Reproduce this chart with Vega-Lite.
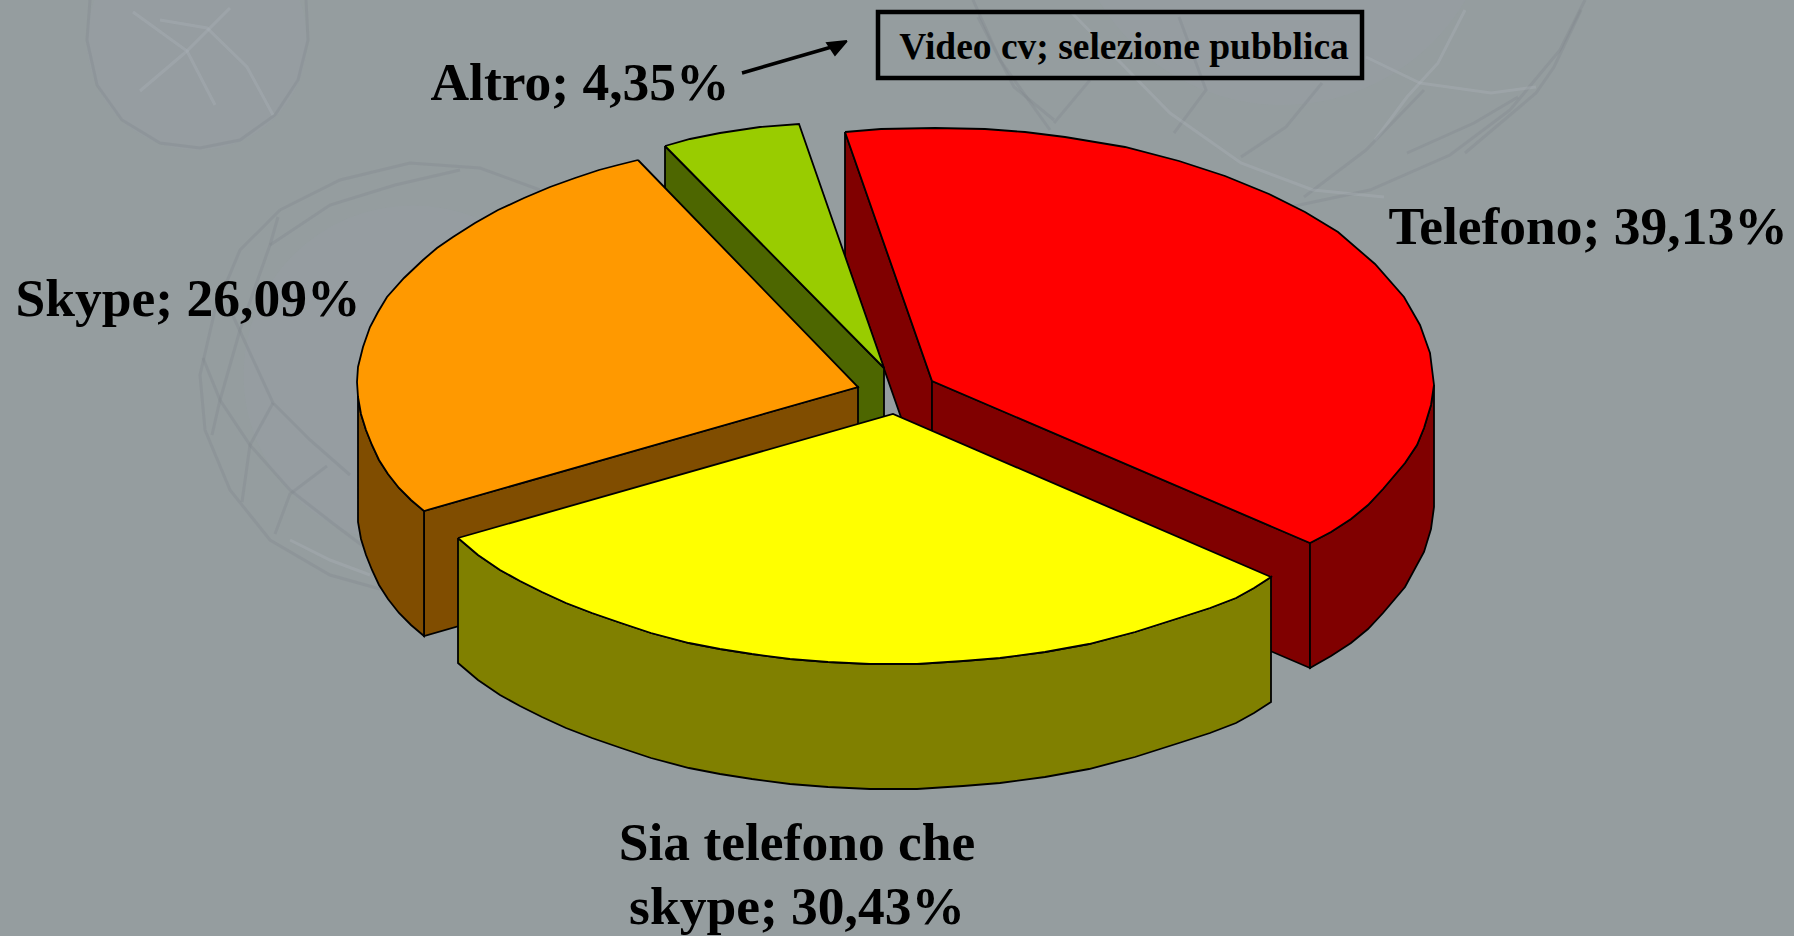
{"$schema":"https://vega.github.io/schema/vega-lite/v6.json","width":1794,"height":936,"padding":0,"autosize":"none","background":"#959d9f","config":{"view":{"stroke":null},"axis":{"disable":true}},
"datasets":{
"spheres":[{"sphere":"upper left","x":197,"y":40},{"sphere":"centre left","x":413,"y":375},{"sphere":"upper right","x":1282,"y":-108}],
"wires":[
{"w":"a1","t":"dark","i":0,"x":90,"y":0},{"w":"a1","t":"dark","i":1,"x":87,"y":40},{"w":"a1","t":"dark","i":2,"x":97,"y":85},{"w":"a1","t":"dark","i":3,"x":122,"y":120},{"w":"a1","t":"dark","i":4,"x":160,"y":143},{"w":"a1","t":"dark","i":5,"x":200,"y":148},{"w":"a1","t":"dark","i":6,"x":240,"y":140},{"w":"a1","t":"dark","i":7,"x":275,"y":115},{"w":"a1","t":"dark","i":8,"x":298,"y":80},{"w":"a1","t":"dark","i":9,"x":308,"y":40},{"w":"a1","t":"dark","i":10,"x":306,"y":0},
{"w":"a2","t":"light","i":0,"x":160,"y":20},{"w":"a2","t":"light","i":1,"x":207,"y":28},{"w":"a2","t":"light","i":2,"x":247,"y":67},{"w":"a2","t":"light","i":3,"x":273,"y":115},
{"w":"a3","t":"light","i":0,"x":133,"y":12},{"w":"a3","t":"light","i":1,"x":187,"y":51},{"w":"a3","t":"light","i":2,"x":140,"y":91},
{"w":"a4","t":"light","i":0,"x":230,"y":8},{"w":"a4","t":"light","i":1,"x":187,"y":51},{"w":"a4","t":"light","i":2,"x":215,"y":105},
{"w":"b1","t":"dark","i":0,"x":280,"y":210},{"w":"b1","t":"dark","i":1,"x":240,"y":250},{"w":"b1","t":"dark","i":2,"x":215,"y":310},{"w":"b1","t":"dark","i":3,"x":200,"y":375},{"w":"b1","t":"dark","i":4,"x":205,"y":430},{"w":"b1","t":"dark","i":5,"x":230,"y":490},{"w":"b1","t":"dark","i":6,"x":270,"y":540},{"w":"b1","t":"dark","i":7,"x":330,"y":575},{"w":"b1","t":"dark","i":8,"x":380,"y":589},
{"w":"b2","t":"dark","i":0,"x":280,"y":210},{"w":"b2","t":"dark","i":1,"x":340,"y":180},{"w":"b2","t":"dark","i":2,"x":410,"y":163},{"w":"b2","t":"dark","i":3,"x":480,"y":168},{"w":"b2","t":"dark","i":4,"x":540,"y":190},
{"w":"b3","t":"dark","i":0,"x":203,"y":358},{"w":"b3","t":"dark","i":1,"x":220,"y":400},{"w":"b3","t":"dark","i":2,"x":250,"y":445},{"w":"b3","t":"dark","i":3,"x":290,"y":490},{"w":"b3","t":"dark","i":4,"x":335,"y":525},{"w":"b3","t":"dark","i":5,"x":375,"y":555},
{"w":"b4","t":"dark","i":0,"x":233,"y":316},{"w":"b4","t":"dark","i":1,"x":273,"y":403},{"w":"b4","t":"dark","i":2,"x":310,"y":440},{"w":"b4","t":"dark","i":3,"x":350,"y":475},
{"w":"b5","t":"dark","i":0,"x":273,"y":403},{"w":"b5","t":"dark","i":1,"x":250,"y":445},{"w":"b5","t":"dark","i":2,"x":242,"y":502},
{"w":"b6","t":"dark","i":0,"x":212,"y":435},{"w":"b6","t":"dark","i":1,"x":220,"y":400},{"w":"b6","t":"dark","i":2,"x":240,"y":330},{"w":"b6","t":"dark","i":3,"x":270,"y":245},{"w":"b6","t":"dark","i":4,"x":278,"y":217},
{"w":"b7","t":"dark","i":0,"x":327,"y":466},{"w":"b7","t":"dark","i":1,"x":290,"y":494},{"w":"b7","t":"dark","i":2,"x":275,"y":534},
{"w":"b8","t":"dark","i":0,"x":270,"y":245},{"w":"b8","t":"dark","i":1,"x":330,"y":205},{"w":"b8","t":"dark","i":2,"x":395,"y":185},{"w":"b8","t":"dark","i":3,"x":460,"y":170},
{"w":"b10","t":"light","i":0,"x":290,"y":540},{"w":"b10","t":"light","i":1,"x":330,"y":560},{"w":"b10","t":"light","i":2,"x":370,"y":575},
{"w":"c1","t":"dark","i":0,"x":973,"y":0},{"w":"c1","t":"dark","i":1,"x":1000,"y":60},{"w":"c1","t":"dark","i":2,"x":1050,"y":130},
{"w":"c2","t":"dark","i":0,"x":1290,"y":207},{"w":"c2","t":"dark","i":1,"x":1370,"y":190},{"w":"c2","t":"dark","i":2,"x":1450,"y":155},{"w":"c2","t":"dark","i":3,"x":1510,"y":110},{"w":"c2","t":"dark","i":4,"x":1560,"y":50},{"w":"c2","t":"dark","i":5,"x":1585,"y":0},
{"w":"c3","t":"dark","i":0,"x":978,"y":17},{"w":"c3","t":"dark","i":1,"x":1014,"y":87},{"w":"c3","t":"dark","i":2,"x":1054,"y":120},
{"w":"c4","t":"light","i":0,"x":1465,"y":10},{"w":"c4","t":"light","i":1,"x":1438,"y":63},{"w":"c4","t":"light","i":2,"x":1407,"y":97},{"w":"c4","t":"light","i":3,"x":1375,"y":140},
{"w":"c5","t":"light","i":0,"x":1366,"y":57},{"w":"c5","t":"light","i":1,"x":1420,"y":83},{"w":"c5","t":"light","i":2,"x":1491,"y":93},{"w":"c5","t":"light","i":3,"x":1536,"y":87},
{"w":"c6","t":"dark","i":0,"x":1322,"y":83},{"w":"c6","t":"dark","i":1,"x":1286,"y":127},{"w":"c6","t":"dark","i":2,"x":1241,"y":157},
{"w":"c7","t":"dark","i":0,"x":1407,"y":153},{"w":"c7","t":"dark","i":1,"x":1474,"y":123},{"w":"c7","t":"dark","i":2,"x":1518,"y":97},
{"w":"c8","t":"dark","i":0,"x":1304,"y":197},{"w":"c8","t":"dark","i":1,"x":1366,"y":150},{"w":"c8","t":"dark","i":2,"x":1424,"y":90},
{"w":"c9","t":"dark","i":0,"x":1090,"y":80},{"w":"c9","t":"dark","i":1,"x":1054,"y":123},
{"w":"c10","t":"dark","i":0,"x":1174,"y":133},{"w":"c10","t":"dark","i":1,"x":1206,"y":90},{"w":"c10","t":"dark","i":2,"x":1179,"y":17},
{"w":"c11","t":"light","i":0,"x":1072,"y":13},{"w":"c11","t":"light","i":1,"x":1170,"y":113},{"w":"c11","t":"light","i":2,"x":1241,"y":163},{"w":"c11","t":"light","i":3,"x":1313,"y":190},{"w":"c11","t":"light","i":4,"x":1384,"y":197},
{"w":"c12","t":"dark","i":0,"x":1581,"y":10},{"w":"c12","t":"dark","i":1,"x":1554,"y":67},{"w":"c12","t":"dark","i":2,"x":1536,"y":93},{"w":"c12","t":"dark","i":3,"x":1465,"y":153}
],
"faces":[
{"s":"Telefono side","f":"r1","i":0,"x":845,"y":132},{"s":"Telefono side","f":"r1","i":1,"x":932,"y":381},{"s":"Telefono side","f":"r1","i":2,"x":932,"y":506},{"s":"Telefono side","f":"r1","i":3,"x":845,"y":257},{"s":"Telefono side","f":"r1","i":4,"x":845,"y":132},
{"s":"Telefono side","f":"r2","i":0,"x":932,"y":381},{"s":"Telefono side","f":"r2","i":1,"x":1310,"y":543},{"s":"Telefono side","f":"r2","i":2,"x":1310,"y":668},{"s":"Telefono side","f":"r2","i":3,"x":932,"y":506},{"s":"Telefono side","f":"r2","i":4,"x":932,"y":381},
{"s":"Telefono side","f":"r3","i":0,"x":1434,"y":385},{"s":"Telefono side","f":"r3","i":1,"x":1431,"y":405},{"s":"Telefono side","f":"r3","i":2,"x":1424,"y":428},{"s":"Telefono side","f":"r3","i":3,"x":1417,"y":445},{"s":"Telefono side","f":"r3","i":4,"x":1405,"y":463},{"s":"Telefono side","f":"r3","i":5,"x":1383,"y":489},{"s":"Telefono side","f":"r3","i":6,"x":1368,"y":505},{"s":"Telefono side","f":"r3","i":7,"x":1351,"y":519},{"s":"Telefono side","f":"r3","i":8,"x":1331,"y":532},{"s":"Telefono side","f":"r3","i":9,"x":1310,"y":543},{"s":"Telefono side","f":"r3","i":10,"x":1310,"y":668},{"s":"Telefono side","f":"r3","i":11,"x":1331,"y":656},{"s":"Telefono side","f":"r3","i":12,"x":1351,"y":643},{"s":"Telefono side","f":"r3","i":13,"x":1368,"y":629},{"s":"Telefono side","f":"r3","i":14,"x":1383,"y":613},{"s":"Telefono side","f":"r3","i":15,"x":1405,"y":587},{"s":"Telefono side","f":"r3","i":16,"x":1424,"y":552},{"s":"Telefono side","f":"r3","i":17,"x":1431,"y":529},{"s":"Telefono side","f":"r3","i":18,"x":1434,"y":507},{"s":"Telefono side","f":"r3","i":19,"x":1434,"y":385},
{"s":"Telefono top","f":"r4","i":0,"x":845,"y":132},{"s":"Telefono top","f":"r4","i":1,"x":881,"y":129},{"s":"Telefono top","f":"r4","i":2,"x":935,"y":128},{"s":"Telefono top","f":"r4","i":3,"x":985,"y":129},{"s":"Telefono top","f":"r4","i":4,"x":1025,"y":132},{"s":"Telefono top","f":"r4","i":5,"x":1065,"y":137},{"s":"Telefono top","f":"r4","i":6,"x":1125,"y":147},{"s":"Telefono top","f":"r4","i":7,"x":1179,"y":161},{"s":"Telefono top","f":"r4","i":8,"x":1225,"y":176},{"s":"Telefono top","f":"r4","i":9,"x":1269,"y":194},{"s":"Telefono top","f":"r4","i":10,"x":1305,"y":212},{"s":"Telefono top","f":"r4","i":11,"x":1338,"y":232},{"s":"Telefono top","f":"r4","i":12,"x":1375,"y":264},{"s":"Telefono top","f":"r4","i":13,"x":1404,"y":297},{"s":"Telefono top","f":"r4","i":14,"x":1420,"y":325},{"s":"Telefono top","f":"r4","i":15,"x":1430,"y":353},{"s":"Telefono top","f":"r4","i":16,"x":1434,"y":385},{"s":"Telefono top","f":"r4","i":17,"x":1431,"y":405},{"s":"Telefono top","f":"r4","i":18,"x":1424,"y":428},{"s":"Telefono top","f":"r4","i":19,"x":1417,"y":445},{"s":"Telefono top","f":"r4","i":20,"x":1405,"y":463},{"s":"Telefono top","f":"r4","i":21,"x":1383,"y":489},{"s":"Telefono top","f":"r4","i":22,"x":1368,"y":505},{"s":"Telefono top","f":"r4","i":23,"x":1351,"y":519},{"s":"Telefono top","f":"r4","i":24,"x":1331,"y":532},{"s":"Telefono top","f":"r4","i":25,"x":1310,"y":543},{"s":"Telefono top","f":"r4","i":26,"x":932,"y":381},{"s":"Telefono top","f":"r4","i":27,"x":845,"y":132},
{"s":"Altro side","f":"g1","i":0,"x":665,"y":146},{"s":"Altro side","f":"g1","i":1,"x":884,"y":368},{"s":"Altro side","f":"g1","i":2,"x":884,"y":493},{"s":"Altro side","f":"g1","i":3,"x":665,"y":271},{"s":"Altro side","f":"g1","i":4,"x":665,"y":146},
{"s":"Altro top","f":"g2","i":0,"x":665,"y":146},{"s":"Altro top","f":"g2","i":1,"x":690,"y":139},{"s":"Altro top","f":"g2","i":2,"x":720,"y":133},{"s":"Altro top","f":"g2","i":3,"x":760,"y":127},{"s":"Altro top","f":"g2","i":4,"x":799,"y":124},{"s":"Altro top","f":"g2","i":5,"x":884,"y":368},{"s":"Altro top","f":"g2","i":6,"x":665,"y":146},
{"s":"Skype side","f":"o1","i":0,"x":424,"y":511},{"s":"Skype side","f":"o1","i":1,"x":858,"y":387},{"s":"Skype side","f":"o1","i":2,"x":858,"y":512},{"s":"Skype side","f":"o1","i":3,"x":424,"y":636},{"s":"Skype side","f":"o1","i":4,"x":424,"y":511},
{"s":"Skype side","f":"o2","i":0,"x":358,"y":382},{"s":"Skype side","f":"o2","i":1,"x":358,"y":397},{"s":"Skype side","f":"o2","i":2,"x":361,"y":414},{"s":"Skype side","f":"o2","i":3,"x":366,"y":430},{"s":"Skype side","f":"o2","i":4,"x":372,"y":445},{"s":"Skype side","f":"o2","i":5,"x":379,"y":460},{"s":"Skype side","f":"o2","i":6,"x":388,"y":474},{"s":"Skype side","f":"o2","i":7,"x":399,"y":488},{"s":"Skype side","f":"o2","i":8,"x":411,"y":500},{"s":"Skype side","f":"o2","i":9,"x":424,"y":511},{"s":"Skype side","f":"o2","i":10,"x":424,"y":636},{"s":"Skype side","f":"o2","i":11,"x":411,"y":625},{"s":"Skype side","f":"o2","i":12,"x":399,"y":613},{"s":"Skype side","f":"o2","i":13,"x":388,"y":599},{"s":"Skype side","f":"o2","i":14,"x":379,"y":585},{"s":"Skype side","f":"o2","i":15,"x":372,"y":570},{"s":"Skype side","f":"o2","i":16,"x":366,"y":555},{"s":"Skype side","f":"o2","i":17,"x":361,"y":539},{"s":"Skype side","f":"o2","i":18,"x":358,"y":522},{"s":"Skype side","f":"o2","i":19,"x":358,"y":382},
{"s":"Skype top","f":"o3","i":0,"x":638,"y":160},{"s":"Skype top","f":"o3","i":1,"x":618,"y":165},{"s":"Skype top","f":"o3","i":2,"x":599,"y":170},{"s":"Skype top","f":"o3","i":3,"x":575,"y":178},{"s":"Skype top","f":"o3","i":4,"x":550,"y":187},{"s":"Skype top","f":"o3","i":5,"x":524,"y":198},{"s":"Skype top","f":"o3","i":6,"x":498,"y":210},{"s":"Skype top","f":"o3","i":7,"x":475,"y":223},{"s":"Skype top","f":"o3","i":8,"x":453,"y":237},{"s":"Skype top","f":"o3","i":9,"x":437,"y":248},{"s":"Skype top","f":"o3","i":10,"x":423,"y":260},{"s":"Skype top","f":"o3","i":11,"x":404,"y":278},{"s":"Skype top","f":"o3","i":12,"x":387,"y":297},{"s":"Skype top","f":"o3","i":13,"x":378,"y":312},{"s":"Skype top","f":"o3","i":14,"x":370,"y":327},{"s":"Skype top","f":"o3","i":15,"x":363,"y":347},{"s":"Skype top","f":"o3","i":16,"x":358,"y":367},{"s":"Skype top","f":"o3","i":17,"x":357,"y":382},{"s":"Skype top","f":"o3","i":18,"x":358,"y":397},{"s":"Skype top","f":"o3","i":19,"x":361,"y":414},{"s":"Skype top","f":"o3","i":20,"x":366,"y":430},{"s":"Skype top","f":"o3","i":21,"x":372,"y":445},{"s":"Skype top","f":"o3","i":22,"x":379,"y":460},{"s":"Skype top","f":"o3","i":23,"x":388,"y":474},{"s":"Skype top","f":"o3","i":24,"x":399,"y":488},{"s":"Skype top","f":"o3","i":25,"x":411,"y":500},{"s":"Skype top","f":"o3","i":26,"x":424,"y":511},{"s":"Skype top","f":"o3","i":27,"x":858,"y":387},{"s":"Skype top","f":"o3","i":28,"x":638,"y":160},
{"s":"Sia side","f":"y1","i":0,"x":458,"y":538},{"s":"Sia side","f":"y1","i":1,"x":478,"y":555},{"s":"Sia side","f":"y1","i":2,"x":500,"y":570},{"s":"Sia side","f":"y1","i":3,"x":520,"y":581},{"s":"Sia side","f":"y1","i":4,"x":542,"y":592},{"s":"Sia side","f":"y1","i":5,"x":566,"y":603},{"s":"Sia side","f":"y1","i":6,"x":592,"y":613},{"s":"Sia side","f":"y1","i":7,"x":621,"y":623},{"s":"Sia side","f":"y1","i":8,"x":651,"y":633},{"s":"Sia side","f":"y1","i":9,"x":689,"y":643},{"s":"Sia side","f":"y1","i":10,"x":720,"y":649},{"s":"Sia side","f":"y1","i":11,"x":752,"y":654},{"s":"Sia side","f":"y1","i":12,"x":790,"y":659},{"s":"Sia side","f":"y1","i":13,"x":828,"y":662},{"s":"Sia side","f":"y1","i":14,"x":870,"y":664},{"s":"Sia side","f":"y1","i":15,"x":917,"y":664},{"s":"Sia side","f":"y1","i":16,"x":963,"y":661},{"s":"Sia side","f":"y1","i":17,"x":1000,"y":658},{"s":"Sia side","f":"y1","i":18,"x":1045,"y":652},{"s":"Sia side","f":"y1","i":19,"x":1089,"y":644},{"s":"Sia side","f":"y1","i":20,"x":1135,"y":632},{"s":"Sia side","f":"y1","i":21,"x":1179,"y":618},{"s":"Sia side","f":"y1","i":22,"x":1210,"y":608},{"s":"Sia side","f":"y1","i":23,"x":1236,"y":598},{"s":"Sia side","f":"y1","i":24,"x":1254,"y":588},{"s":"Sia side","f":"y1","i":25,"x":1271,"y":577},{"s":"Sia side","f":"y1","i":26,"x":1271,"y":702},{"s":"Sia side","f":"y1","i":27,"x":1254,"y":713},{"s":"Sia side","f":"y1","i":28,"x":1236,"y":723},{"s":"Sia side","f":"y1","i":29,"x":1210,"y":733},{"s":"Sia side","f":"y1","i":30,"x":1179,"y":743},{"s":"Sia side","f":"y1","i":31,"x":1135,"y":757},{"s":"Sia side","f":"y1","i":32,"x":1089,"y":769},{"s":"Sia side","f":"y1","i":33,"x":1045,"y":777},{"s":"Sia side","f":"y1","i":34,"x":1000,"y":783},{"s":"Sia side","f":"y1","i":35,"x":963,"y":786},{"s":"Sia side","f":"y1","i":36,"x":917,"y":789},{"s":"Sia side","f":"y1","i":37,"x":870,"y":789},{"s":"Sia side","f":"y1","i":38,"x":828,"y":787},{"s":"Sia side","f":"y1","i":39,"x":790,"y":784},{"s":"Sia side","f":"y1","i":40,"x":752,"y":779},{"s":"Sia side","f":"y1","i":41,"x":720,"y":774},{"s":"Sia side","f":"y1","i":42,"x":689,"y":768},{"s":"Sia side","f":"y1","i":43,"x":651,"y":758},{"s":"Sia side","f":"y1","i":44,"x":621,"y":748},{"s":"Sia side","f":"y1","i":45,"x":592,"y":738},{"s":"Sia side","f":"y1","i":46,"x":566,"y":728},{"s":"Sia side","f":"y1","i":47,"x":542,"y":717},{"s":"Sia side","f":"y1","i":48,"x":520,"y":706},{"s":"Sia side","f":"y1","i":49,"x":500,"y":695},{"s":"Sia side","f":"y1","i":50,"x":478,"y":680},{"s":"Sia side","f":"y1","i":51,"x":458,"y":663},{"s":"Sia side","f":"y1","i":52,"x":458,"y":538},
{"s":"Sia top","f":"y2","i":0,"x":458,"y":538},{"s":"Sia top","f":"y2","i":1,"x":478,"y":555},{"s":"Sia top","f":"y2","i":2,"x":500,"y":570},{"s":"Sia top","f":"y2","i":3,"x":520,"y":581},{"s":"Sia top","f":"y2","i":4,"x":542,"y":592},{"s":"Sia top","f":"y2","i":5,"x":566,"y":603},{"s":"Sia top","f":"y2","i":6,"x":592,"y":613},{"s":"Sia top","f":"y2","i":7,"x":621,"y":623},{"s":"Sia top","f":"y2","i":8,"x":651,"y":633},{"s":"Sia top","f":"y2","i":9,"x":689,"y":643},{"s":"Sia top","f":"y2","i":10,"x":720,"y":649},{"s":"Sia top","f":"y2","i":11,"x":752,"y":654},{"s":"Sia top","f":"y2","i":12,"x":790,"y":659},{"s":"Sia top","f":"y2","i":13,"x":828,"y":662},{"s":"Sia top","f":"y2","i":14,"x":870,"y":664},{"s":"Sia top","f":"y2","i":15,"x":917,"y":664},{"s":"Sia top","f":"y2","i":16,"x":963,"y":661},{"s":"Sia top","f":"y2","i":17,"x":1000,"y":658},{"s":"Sia top","f":"y2","i":18,"x":1045,"y":652},{"s":"Sia top","f":"y2","i":19,"x":1089,"y":644},{"s":"Sia top","f":"y2","i":20,"x":1135,"y":632},{"s":"Sia top","f":"y2","i":21,"x":1179,"y":618},{"s":"Sia top","f":"y2","i":22,"x":1210,"y":608},{"s":"Sia top","f":"y2","i":23,"x":1236,"y":598},{"s":"Sia top","f":"y2","i":24,"x":1254,"y":588},{"s":"Sia top","f":"y2","i":25,"x":1271,"y":577},{"s":"Sia top","f":"y2","i":26,"x":893,"y":414},{"s":"Sia top","f":"y2","i":27,"x":458,"y":538},
{"s":"Arrow","f":"a1","i":0,"x":847,"y":41},{"s":"Arrow","f":"a1","i":1,"x":827,"y":43},{"s":"Arrow","f":"a1","i":2,"x":835,"y":55},{"s":"Arrow","f":"a1","i":3,"x":847,"y":41}
],
"labels":[
{"t":"Telefono; 39,13%","x":1588,"y":244,"k":"big"},
{"t":"Skype; 26,09%","x":188,"y":316,"k":"big"},
{"t":"Altro; 4,35%","x":580,"y":100,"k":"big"},
{"t":"Sia telefono che","x":797,"y":860,"k":"big"},
{"t":"skype; 30,43%","x":797,"y":924,"k":"big"},
{"t":"Video cv; selezione pubblica","x":1124,"y":59,"k":"small"}
],
"box":[{"x":878,"x2":1362,"y":12,"y2":78}],
"arrowLine":[{"x":742,"y":73,"x2":835,"y2":46}]},
"layer":[
{"data":{"name":"spheres"},"mark":{"type":"point","filled":true,"opacity":0.16,"fill":"#9ba2b0","stroke":null},"encoding":{
"x":{"field":"x","type":"quantitative","scale":{"domain":[0,1794],"nice":false,"zero":false}},
"y":{"field":"y","type":"quantitative","scale":{"domain":[0,936],"reverse":true,"nice":false,"zero":false}},
"shape":{"value":"circle"},
"size":{"field":"sphere","type":"nominal","legend":null,"scale":{"domain":["upper left","centre left","upper right"],"range":[48400,181476,396900]}}}},
{"data":{"name":"wires"},"mark":{"type":"line","strokeWidth":3,"opacity":0.3},"encoding":{
"x":{"field":"x","type":"quantitative"},
"y":{"field":"y","type":"quantitative"},
"order":{"field":"i"},"detail":{"field":"w"},
"stroke":{"field":"t","type":"nominal","legend":null,"scale":{"domain":["dark","light"],"range":["#7f868c","#b0b5bd"]}}}},
{"data":{"name":"faces"},"mark":{"type":"line","stroke":"#000","strokeWidth":1.8,"strokeJoin":"miter"},"encoding":{
"x":{"field":"x","type":"quantitative"},
"y":{"field":"y","type":"quantitative"},
"order":{"field":"i"},"detail":{"field":"f"},
"fill":{"field":"s","type":"nominal","legend":null,"scale":{"domain":["Telefono side","Telefono top","Altro side","Altro top","Skype side","Skype top","Sia side","Sia top","Arrow"],"range":["#800000","#ff0000","#4d6600","#99cc00","#804d00","#ff9900","#808000","#ffff00","#000000"]}}}},
{"data":{"name":"box"},"mark":{"type":"rect","fillOpacity":0,"stroke":"#000","strokeWidth":4.5},"encoding":{"x":{"field":"x","type":"quantitative"},"x2":{"field":"x2"},"y":{"field":"y","type":"quantitative"},"y2":{"field":"y2"}}},
{"data":{"name":"arrowLine"},"mark":{"type":"rule","stroke":"#000","strokeWidth":3.5},"encoding":{"x":{"field":"x","type":"quantitative"},"x2":{"field":"x2"},"y":{"field":"y","type":"quantitative"},"y2":{"field":"y2"}}},
{"data":{"name":"labels"},"transform":[{"filter":"datum.k=='big'"}],"mark":{"type":"text","font":"Liberation Serif","fontWeight":"bold","fontSize":53.5,"align":"center","baseline":"alphabetic","color":"#000"},"encoding":{"x":{"field":"x","type":"quantitative"},"y":{"field":"y","type":"quantitative"},"text":{"field":"t"}}},
{"data":{"name":"labels"},"transform":[{"filter":"datum.k=='small'"}],"mark":{"type":"text","font":"Liberation Serif","fontWeight":"bold","fontSize":37.5,"align":"center","baseline":"alphabetic","color":"#000"},"encoding":{"x":{"field":"x","type":"quantitative"},"y":{"field":"y","type":"quantitative"},"text":{"field":"t"}}}
]}
